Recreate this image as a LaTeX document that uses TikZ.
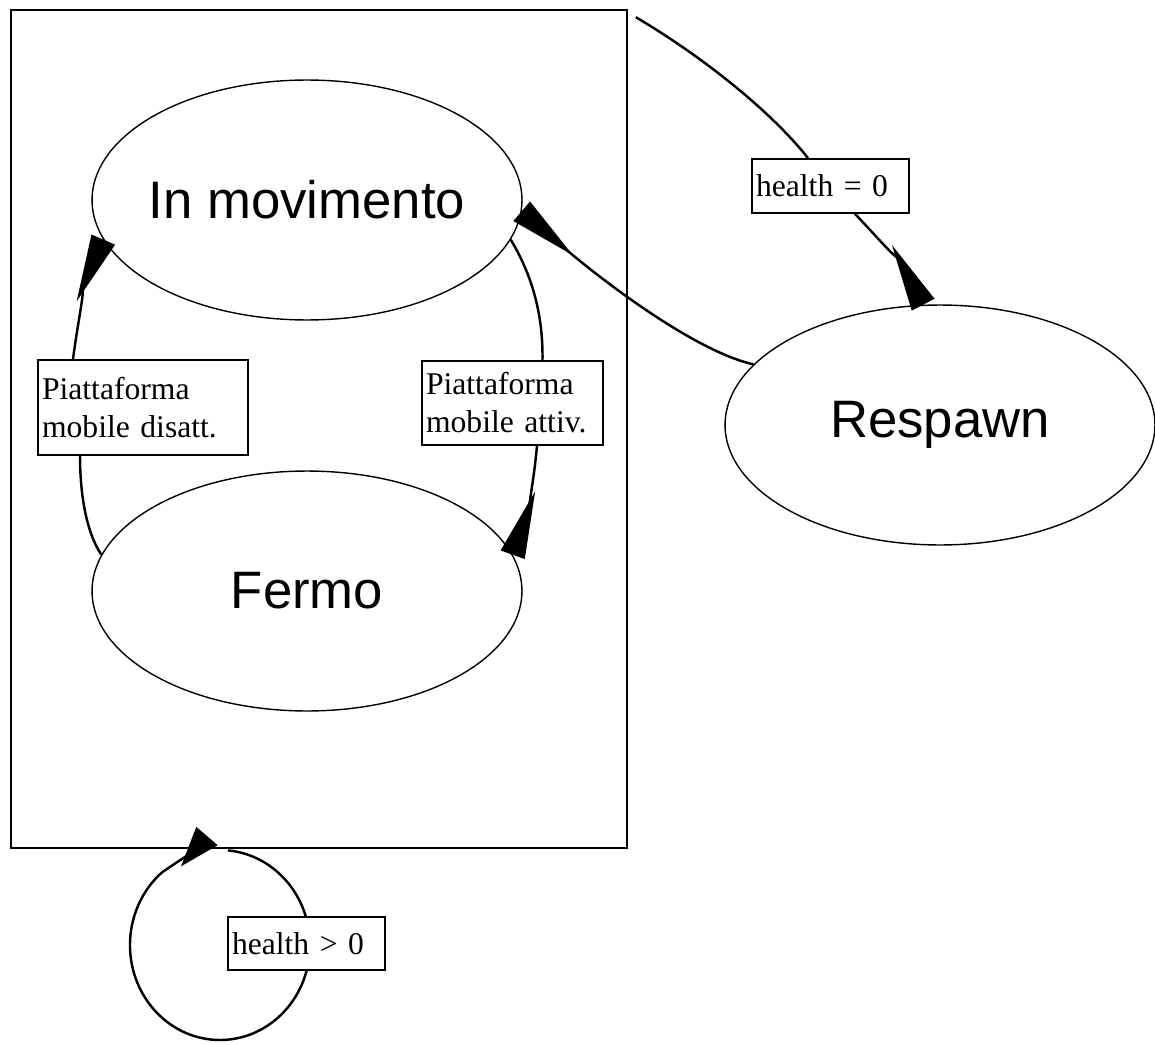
\documentclass[tikz,border=0pt]{standalone}
\usepackage{fontspec}
\setmainfont{Liberation Serif}
\newfontfamily\statofont{Liberation Sans}
\usetikzlibrary{arrows.meta,shapes.geometric}
\newcommand\nomestato[1]{\makebox[0pt]{#1}}

\begin{document}
\begin{tikzpicture}[x=0.02cm,y=-0.02cm,
    stato/.style={ellipse,draw,line width=0.8pt,minimum width=8.6cm,minimum height=4.8cm,inner sep=0pt,font=\fontsize{30}{36}\statofont},
    etichetta/.style 2 args={draw,fill=white,line width=1pt,align=left,text width=#1,minimum height=#2,inner xsep=0.08cm,inner ysep=0pt,font=\fontsize{18}{21.6}\selectfont},
    linea/.style={line width=1.4pt},
    freccia/.style={linea,-{Triangle[reversed,length=1.35cm,width=0.5cm]}}]
  \useasboundingbox (0,0) rectangle (1155,1044);
  \node[draw,line width=1pt,minimum width=12.32cm,minimum height=16.76cm,inner sep=0pt] (vivo) at (319,429) {};
  \node[stato] (mov) at (307,200) {\nomestato{In movimento}};
  \node[stato] (fer) at (307,591) {\nomestato{Fermo}};
  \node[stato] (resp) at (940,425) {\nomestato{Respawn}};
  % etichette delle transizioni
  \node[etichetta={2.98cm}{1.08cm}] (h0) at (830.5,186) {health = 0};
  \node[etichetta={4.04cm}{1.9cm}] (dis) at (143,407.5) {Piattaforma\\mobile disatt.};
  \node[etichetta={3.46cm}{1.68cm}] (att) at (512.5,403) {Piattaforma\\mobile attiv.};
  % transizioni
  \draw[linea] ([shift={(0.16cm,-0.16cm)}]vivo.north east) .. controls (700,55) and (770,110) .. ([xshift=-0.45cm]h0.north);
  \draw[freccia] ([xshift=0.49cm]h0.south) .. controls (880,240) and (905,270) .. (resp.98);
  \draw[freccia] (resp.162) .. controls (690,350) and (590,270) .. (mov.-3);
  \draw[linea] (mov.-11) .. controls (535,280) and (543,320) .. ([xshift=0.6cm]att.north);
  \draw[freccia] ([xshift=0.49cm]att.south) .. controls (533,490) and (525,520) .. (fer.10);
  \draw[linea] (fer.170) .. controls (85,530) and (80,490) .. ([xshift=-1.26cm]dis.south);
  \draw[freccia] ([xshift=-1.4cm]dis.north) .. controls (78,320) and (88,275) .. (mov.191);
  % cappio sotto il riquadro
  \coordinate (cappio) at (227.8,850.4);
  \coordinate (cappiofine) at (207,836);
  \draw[linea,-{Triangle[reversed,length=0.8cm,width=0.55cm]}] (cappio) arc[start angle=85,end angle=-230,x radius=1.8cm,y radius=1.9cm] .. controls (195,850) .. (cappiofine);
  \node[etichetta={2.98cm}{1.06cm}] (hg) at (306.5,943.5) {health > 0};
\end{tikzpicture}
\end{document}
